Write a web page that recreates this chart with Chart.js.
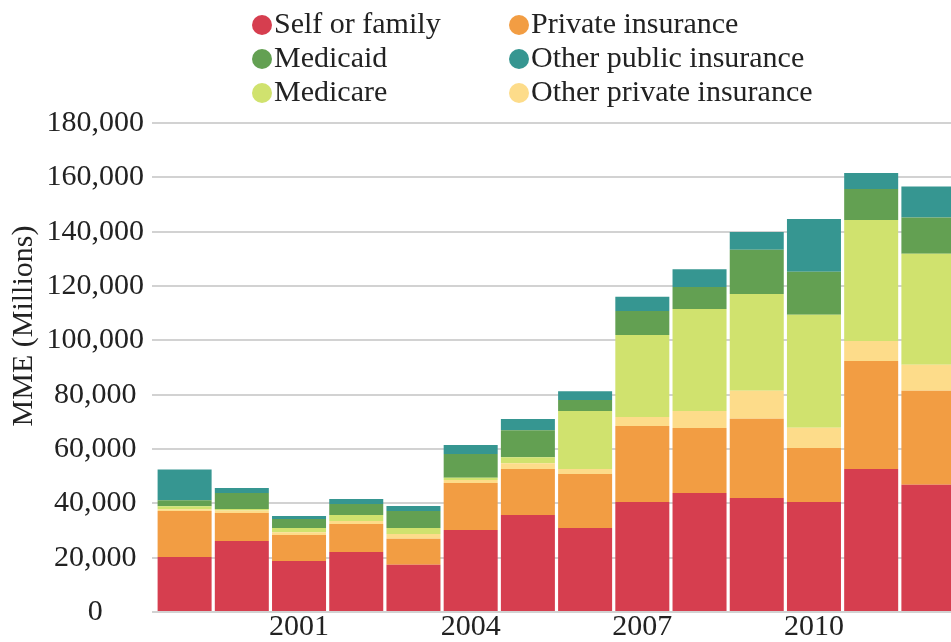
<!DOCTYPE html>
<html>
<head>
<meta charset="utf-8">
<script src="https://cdn.jsdelivr.net/npm/chart.js@4"></script>
<style>
  html, body { margin: 0; padding: 0; background: #fff; overflow: hidden; }
  #mmeChart { display: block; }
</style>
</head>
<body>
<canvas id="mmeChart" width="957" height="642"></canvas>
<script>
// MME BY PAYER - STACKED BAR

const years = ["1999", "2000", "2001", "2002", "2003", "2004", "2005", "2006", "2007", "2008", "2009", "2010", "2011", "2012"];

const selfFamily   = [20200, 26100, 18800, 22100, 17400, 30200, 35700, 30900, 40500, 43800, 42000, 40500, 52600, 46800];
const privateIns   = [17000, 10300,  9500, 10300,  9600, 17300, 16900, 19900, 28000, 23900, 29100, 19900, 39800, 34600];
const otherPrivate = [  600,  1000,  1100,  1100,  1700,  1100,  2200,  1800,  3300,  6300, 10300,  7400,  7400,  9600];
const medicare     = [ 1100,   500,  1500,  2200,  2200,   850,  2200, 21400, 30200, 37500, 35700, 41600, 44500, 40900];
const medicaid     = [ 2200,  5900,  3300,  4100,  6300,  8700,  9900,  4000,  8800,  8100, 16200, 15800, 11400, 13300];
const otherPublic  = [11400,  1800,  1100,  1800,  1800,  3300,  4100,  3300,  5200,  6600,  6600, 19500,  5900, 11400];

const yTicks = [0, 20000, 40000, 60000, 80000, 100000, 120000, 140000, 160000, 180000];

const serif = "'Liberation Serif', 'Times New Roman', serif";
Chart.defaults.font.family = serif;
Chart.defaults.font.size = 30;
Chart.defaults.color = "#222";

const mmeData = {
    labels: years,
    datasets: [
        { label: "Self or family",          data: selfFamily,   backgroundColor: "#d63e4f" },
        { label: "Private insurance",       data: privateIns,   backgroundColor: "#f29d43" },
        { label: "Other private insurance", data: otherPrivate, backgroundColor: "#fddc8a" },
        { label: "Medicare",                data: medicare,     backgroundColor: "#d0e26e" },
        { label: "Medicaid",                data: medicaid,     backgroundColor: "#63a052" },
        { label: "Other public insurance",  data: otherPublic,  backgroundColor: "#369691" }
    ]
};

// legend reads row by row, two columns
const legendOrder = [0, 1, 4, 5, 3, 2];

const gridLegend = {
    id: "gridLegend",
    afterDraw(chart) {
        const ctx = chart.ctx;
        ctx.save();
        ctx.font = "30px " + serif;
        ctx.textBaseline = "alphabetic";
        ctx.textAlign = "left";
        legendOrder.forEach((dsIndex, k) => {
            const ds = chart.data.datasets[dsIndex];
            const cx = [262, 519][k % 2];
            const row = Math.floor(k / 2);
            const cy = 25 + row * 34;
            ctx.fillStyle = ds.backgroundColor;
            ctx.beginPath();
            ctx.arc(cx, cy, 10, 0, Math.PI * 2);
            ctx.fill();
            ctx.fillStyle = "#222";
            ctx.fillText(ds.label, cx + 12, cy + 8);
        });
        ctx.restore();
    }
};

// y title sits on the middle of the whole picture, not the plot
const yTitle = {
    id: "yTitle",
    afterDraw(chart) {
        const ctx = chart.ctx;
        ctx.save();
        ctx.translate(24, 326);
        ctx.rotate(-Math.PI / 2);
        ctx.font = "30px " + serif;
        ctx.fillStyle = "#222";
        ctx.textAlign = "center";
        ctx.textBaseline = "middle";
        ctx.fillText("MME (Millions)", 0, 0);
        ctx.restore();
    }
};

new Chart(document.getElementById("mmeChart"), {
    type: "bar",
    data: mmeData,
    plugins: [gridLegend, yTitle],
    options: {
        responsive: false,
        animation: false,
        events: [],
        layout: { padding: { top: 123, left: 0, right: 0, bottom: 0 } },
        datasets: {
            bar: { categoryPercentage: 1, barPercentage: 0.944, borderWidth: 0 }
        },
        plugins: {
            legend: { display: false },
            tooltip: { enabled: false }
        },
        scales: {
            x: {
                stacked: true,
                grid: { display: false },
                border: { display: false },
                afterFit: (scale) => { scale.height = 30; },
                ticks: {
                    autoSkip: false,
                    maxRotation: 0,
                    padding: -8,
                    font: { size: 30, lineHeight: 1 },
                    callback: function (value, index) {
                        return index % 3 === 2 ? this.getLabelForValue(value) : "";
                    }
                }
            },
            y: {
                stacked: true,
                min: 0,
                max: 180000,
                afterFit: (scale) => { scale.width = 156; },
                afterBuildTicks: (scale) => { scale.ticks = yTicks.map(v => ({ value: v })); },
                grid: { color: "#d2d2d2", lineWidth: 2, drawTicks: true, tickLength: 4 },
                border: { display: false },
                ticks: {
                    crossAlign: "center",
                    padding: 8,
                    callback: (v) => v.toLocaleString("en-US")
                }
            }
        }
    }
});
</script>
</body>
</html>
